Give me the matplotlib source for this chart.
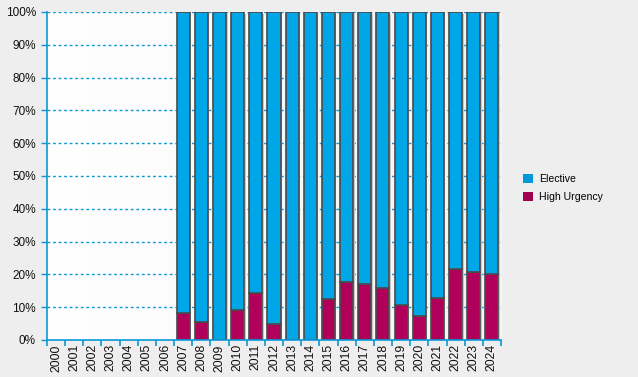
import numpy as np
import matplotlib
matplotlib.use("Agg")
import matplotlib.pyplot as plt
from matplotlib.patches import Patch

plt.rcParams['font.family'] = ['Liberation Sans', 'DejaVu Sans']

years = [str(y) for y in range(2000, 2025)]
high_urgency = [np.nan] * 7 + [8.2, 5.5, 0.0, 9.1, 14.3, 4.9, 0.0, 0.0, 12.5, 17.7,
                               17.1, 15.9, 10.7, 7.3, 12.8, 21.6, 20.7, 20.1]
elective = [np.nan if np.isnan(h) else 100 - h for h in high_urgency]

fig = plt.figure(figsize=(6.38, 3.77), dpi=100, facecolor="#eeeeee")
ax = fig.add_axes([47 / 638, 37 / 377, 454 / 638, 328 / 377])

n = len(years)
x = np.arange(n)

# plot area background: white to light grey gradient
grad = np.linspace(1.0, 0.0, 256).reshape(1, -1)
ax.imshow(grad, cmap=matplotlib.colors.LinearSegmentedColormap.from_list("g", ["#f4f4f4", "#ffffff"]),
          extent=[-0.5, n - 0.5, 0, 100], aspect="auto", zorder=0)

for y in range(10, 101, 10):
    ax.axhline(y, color="#0a98d8", linestyle=(0, (2, 2)), linewidth=1, zorder=1)

w = 0.72
hu = np.nan_to_num(high_urgency)
el = np.nan_to_num(elective)
mask = ~np.isnan(high_urgency)
# shadow
ax.bar(x[mask] + 0.08, 100, width=w, bottom=-0.6, color="#c8c8c8", zorder=2)
ax.bar(x[mask], hu[mask], width=w, color="#b0005a", edgecolor="#4a4a4a", linewidth=1.2, zorder=3)
ax.bar(x[mask], el[mask], width=w, bottom=hu[mask], color="#00a6e6", edgecolor="#4a4a4a",
       linewidth=1.2, zorder=3)

ax.set_xlim(-0.5, n - 0.5)
ax.set_ylim(0, 100)
ax.set_yticks(range(0, 101, 10))
ax.set_yticklabels(["%d%%" % v for v in range(0, 101, 10)], fontsize=8.5, color="#111111")
ax.set_xticks(x)
ax.set_xticklabels(years, rotation=90, fontsize=8.8, color="#111111")
ax.tick_params(axis="x", length=0, pad=3)
ax.set_xticks(np.arange(-0.5, n, 1), minor=True)
ax.tick_params(axis="x", which="minor", length=4, color="#0a98d8", width=1.2)
ax.tick_params(axis="y", length=4, color="#0a98d8", width=1, pad=4)

for s in ["top", "right"]:
    ax.spines[s].set_visible(False)
for s in ["left", "bottom"]:
    ax.spines[s].set_color("#0a98d8")
    ax.spines[s].set_linewidth(1.2)
    ax.spines[s].set_zorder(5)

handles = [Patch(facecolor="#0099d8", label="Elective"),
           Patch(facecolor="#a0004f", label="High Urgency")]
fig.legend(handles=handles, loc="center left", bbox_to_anchor=(513 / 638, 1 - 188 / 377),
           frameon=False, fontsize=7.6, handlelength=0.95, handleheight=0.95, handletextpad=0.6,
           labelspacing=0.75)

fig.savefig("out.png", dpi=100, facecolor=fig.get_facecolor())
